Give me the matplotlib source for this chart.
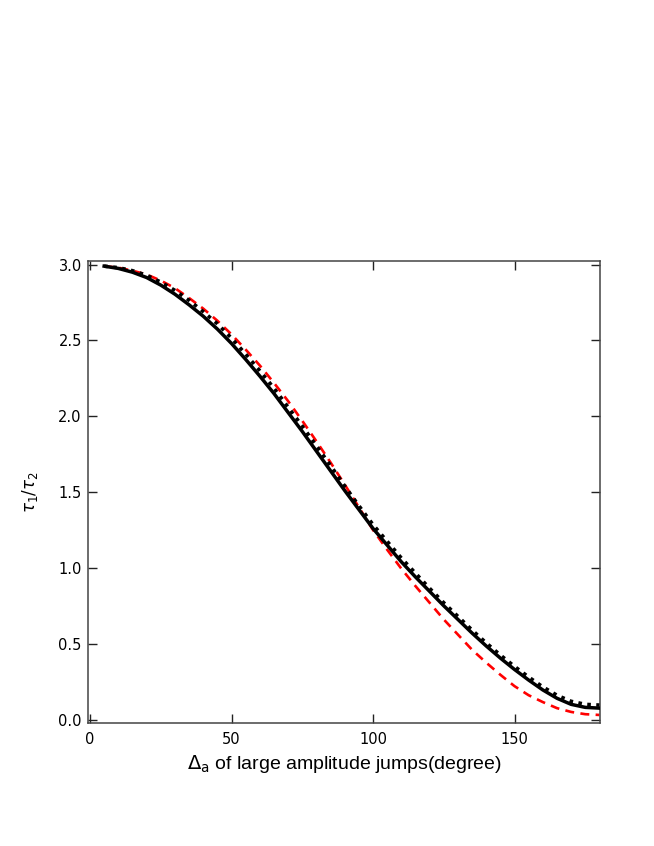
import matplotlib
matplotlib.use("Agg")
import matplotlib.pyplot as plt

# jump amplitude (degree)
angle = [5, 10, 15, 20, 25, 30, 35, 40, 45, 50, 55, 60, 65, 70, 75, 80, 85, 90,
         95, 100, 105, 110, 115, 120, 125, 130, 135, 140, 145, 150, 155, 160,
         165, 170, 175, 180]

# tau1/tau2
solid = [2.99, 2.975, 2.95, 2.915, 2.865, 2.805, 2.735, 2.66, 2.575, 2.48,
         2.375, 2.265, 2.15, 2.025, 1.90, 1.77, 1.64, 1.51, 1.385, 1.26, 1.15,
         1.04, 0.94, 0.845, 0.75, 0.66, 0.57, 0.485, 0.405, 0.33, 0.26, 0.195,
         0.14, 0.10, 0.08, 0.075]
dotted = [2.99, 2.98, 2.96, 2.93, 2.885, 2.83, 2.765, 2.69, 2.61, 2.515, 2.41,
          2.30, 2.185, 2.06, 1.935, 1.805, 1.675, 1.54, 1.41, 1.285, 1.175,
          1.065, 0.965, 0.865, 0.77, 0.68, 0.59, 0.505, 0.425, 0.35, 0.28,
          0.215, 0.16, 0.12, 0.10, 0.095]
dashed = [2.99, 2.98, 2.96, 2.935, 2.895, 2.845, 2.78, 2.71, 2.63, 2.54, 2.44,
          2.335, 2.22, 2.10, 1.97, 1.835, 1.695, 1.55, 1.40, 1.25, 1.12, 0.995,
          0.88, 0.77, 0.66, 0.56, 0.46, 0.375, 0.295, 0.22, 0.16, 0.115, 0.075,
          0.05, 0.035, 0.03]

xticks = [0, 50, 100, 150]
yticks = [0.0, 0.5, 1.0, 1.5, 2.0, 2.5, 3.0]

fig = plt.figure(figsize=(6.54, 8.46), dpi=100)
ax = fig.add_axes([0.1346, 0.1454, 0.7828, 0.5461])

ax.plot(angle, dashed, color="red", lw=1.9, ls=(0, (3.4, 2.4)), zorder=2)
ax.plot(angle, dotted, color="black", lw=2.6, ls=(0, (1, 1.5)),
        dash_capstyle="butt", zorder=3)
ax.plot(angle, solid, color="black", lw=2.5, zorder=4)

ax.set_xlim(-0.7, 180.2)
ax.set_ylim(-0.023, 3.024)
ax.set_xticks(xticks)
ax.set_yticks(yticks)
ax.set_xticklabels([str(t) for t in xticks])
ax.set_yticklabels([f"{t:.1f}" for t in yticks])

for s in ax.spines.values():
    s.set_color("#444444")
    s.set_linewidth(1.1)
ax.tick_params(direction="in", length=6.5, width=1.0, color="#222222",
               top=True, right=True, labelsize=10.5, labelcolor="black")
ax.tick_params(axis="x", pad=6.5)
ax.tick_params(axis="y", pad=4.5)

ax.set_xlabel(r"$\Delta_{\mathrm{a}}$ of large amplitude jumps(degree)",
              fontsize=14, family="Liberation Sans", labelpad=4)
ax.set_ylabel(r"$\tau_1/\tau_2$", fontsize=12)
ax.yaxis.set_label_coords(-0.093, 0.5)

fig.savefig("out.png", dpi=100)
